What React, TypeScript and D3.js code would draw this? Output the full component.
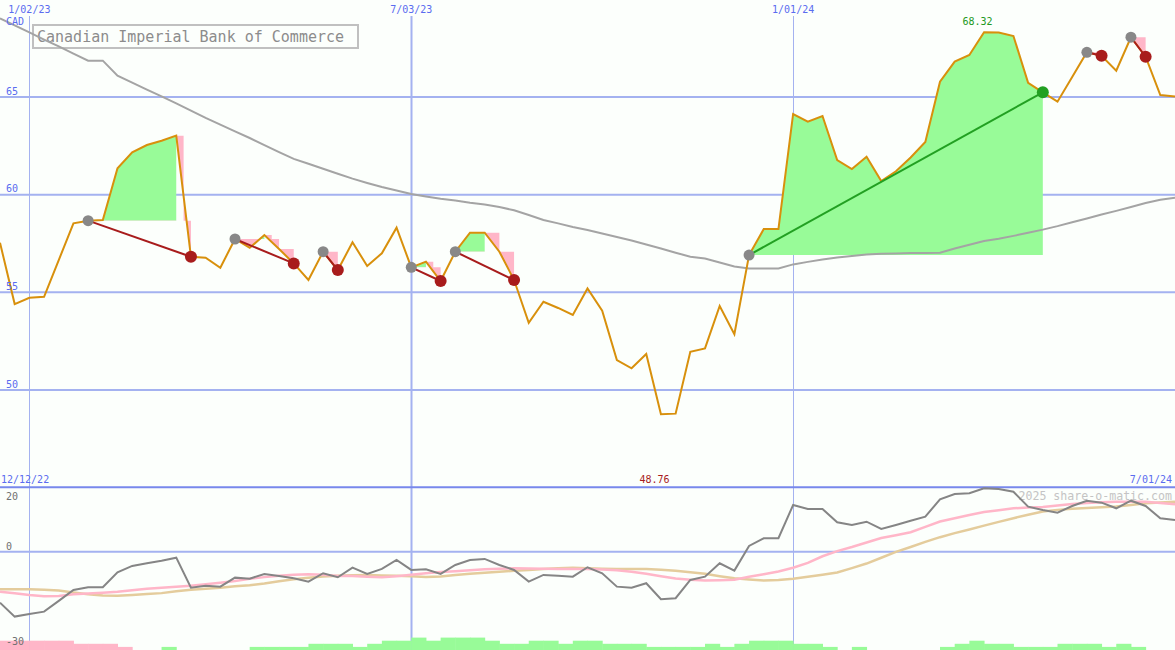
// @ts-nocheck
import { useRef, useEffect } from "react";
import * as d3 from "d3";

const W = 1175;
const H = 650;

// weekly closes, first week 12/19/22
const firstWeek = new Date(2022, 11, 19);
const lastDay = new Date(2024, 6, 1);

const closes = [
  57.54, 54.4, 54.72, 54.77, 56.65, 58.53, 58.67, 58.7, 61.35, 62.17,
  62.54, 62.76, 63.02, 56.82, 56.77, 56.26, 57.73, 57.28, 57.93, 57.22,
  56.48, 55.63, 57.08, 56.14, 57.56, 56.35, 57.0, 58.31, 56.28, 56.57,
  55.58, 57.08, 58.05, 58.05, 57.08, 55.63, 53.44, 54.52, 54.2, 53.84,
  55.2, 54.06, 51.53, 51.11, 51.84, 48.76, 48.79, 51.96, 52.13, 54.3,
  52.86, 56.91, 58.24, 58.24, 64.13, 63.74, 64.03, 61.77, 61.31, 61.94,
  60.7, 61.2, 61.9, 62.7, 65.78, 66.81, 67.15, 68.32, 68.3, 68.12,
  65.73, 65.24, 64.76, 66.02, 67.29, 67.11, 66.35, 68.06, 67.06, 65.1,
  65.02,
];

const movingAvg = [
  69.03, 68.67, 68.31, 67.94, 67.59, 67.22, 66.86, 66.86, 66.09, 65.74,
  65.38, 65.03, 64.67, 64.3, 63.93, 63.59, 63.24, 62.9, 62.54, 62.18,
  61.83, 61.58, 61.33, 61.07, 60.82, 60.6, 60.39, 60.21, 60.03, 59.91,
  59.79, 59.7, 59.59, 59.5, 59.37, 59.2, 58.96, 58.7, 58.53, 58.34,
  58.19, 58.01, 57.83, 57.65, 57.45, 57.24, 57.03, 56.82, 56.73, 56.53,
  56.32, 56.22, 56.22, 56.22, 56.43, 56.56, 56.68, 56.78, 56.86, 56.94,
  56.97, 56.99, 57.01, 57.01, 57.03, 57.24, 57.44, 57.63, 57.74, 57.89,
  58.05, 58.21, 58.39, 58.59, 58.78, 58.98, 59.17, 59.37, 59.57, 59.74,
  59.84,
];

// lower panel
const oscMain = [
  -16.09, -20.5, -19.65, -18.93, -15.55, -12.08, -11.23, -11.23, -6.5, -4.51,
  -3.66, -2.84, -1.89, -11.36, -10.73, -11.04, -8.2, -8.52, -7.03, -7.67,
  -8.39, -9.46, -6.81, -8.08, -5.05, -7.03, -5.46, -2.62, -5.77, -5.55,
  -7.03, -4.2, -2.62, -2.3, -4.2, -5.77, -9.46, -7.35, -7.57, -7.89,
  -4.92, -6.81, -11.04, -11.36, -9.97, -15.02, -14.7, -8.93, -7.89, -3.66,
  -5.99, 1.8, 4.23, 4.23, 14.73, 13.47, 13.47, 9.27, 8.42, 9.46,
  7.16, 8.42, 9.78, 11.04, 16.53, 18.2, 18.42, 20.0, 19.78, 18.93,
  14.2, 13.15, 12.3, 14.42, 16.09, 15.46, 13.69, 16.09, 14.42, 10.54,
  10.0,
];

const oscFast = [
  -12.62, -13.15, -13.69, -14.07, -14.01, -13.47, -13.22, -13.0, -12.68, -12.15,
  -11.7, -11.42, -11.07, -10.73, -10.32, -9.81, -9.24, -8.55, -8.04, -7.6,
  -7.29, -7.13, -7.29, -7.67, -7.7, -7.92, -8.04, -7.73, -7.32, -6.81,
  -6.44, -6.18, -5.9, -5.55, -5.43, -5.27, -5.3, -5.43, -5.46, -5.46,
  -5.46, -5.65, -5.9, -6.37, -6.97, -7.73, -8.45, -8.9, -9.12, -9.0,
  -8.86, -7.92, -7.13, -6.25, -5.08, -3.53, -1.45, 0.16, 1.45, 2.87,
  4.32, 5.21, 6.15, 7.82, 9.5, 10.57, 11.58, 12.49, 13.09, 13.69,
  13.91, 14.13, 14.54, 15.05, 15.36, 15.61, 15.77, 15.77, 15.77, 15.36,
  14.95,
];

const oscSlow = [
  -11.86, -11.86, -11.86, -12.05, -12.27, -12.9, -13.47, -13.82, -13.88, -13.66,
  -13.38, -13.09, -12.49, -11.99, -11.7, -11.36, -10.95, -10.57, -10.03, -9.37,
  -8.68, -8.23, -7.85, -7.63, -7.48, -7.35, -7.51, -7.63, -7.79, -7.98,
  -7.85, -7.38, -6.97, -6.62, -6.31, -6.03, -5.77, -5.49, -5.27, -5.05,
  -5.21, -5.36, -5.46, -5.46, -5.46, -5.74, -6.06, -6.53, -6.97, -7.73,
  -8.42, -8.8, -9.12, -8.93, -8.58, -7.95, -7.26, -6.56, -5.21, -3.75,
  -1.92, -0.06, 1.48, 3.09, 4.57, 5.84, 7.0, 8.23, 9.4, 10.57,
  11.67, 12.68, 13.19, 13.53, 13.79, 14.04, 14.29, 14.76, 15.27, 15.52,
  15.77,
];

const volLevels = [
  -3, -3, -3, -3, -3, -2, -2, -2, -1, 0,
  0, 1, 0, 0, 0, 0, 0, 1, 1, 1,
  1, 2, 2, 2, 1, 2, 3, 3, 4, 3,
  4, 4, 4, 3, 2, 2, 3, 3, 2, 3,
  3, 2, 2, 2, 1, 1, 1, 1, 2, 1,
  2, 3, 3, 3, 2, 2, 1, 0, 1, 0,
  0, 0, 0, 0, 1, 2, 3, 2, 2, 1,
  1, 1, 2, 2, 2, 1, 2, 1, 0, 0,
  0,
];

// trades: week index of entry / exit
const entryWeeks = [6, 16, 22, 28, 31, 51, 74, 77];
const exitWeeks = [13, 20, 23, 30, 35, 71, 75, 78];

const priceTicks = [50, 55, 60, 65];
const oscTicks = [20, 0, -30];
const gridDates = [new Date(2023, 0, 2), new Date(2023, 6, 3), new Date(2024, 0, 1)];
const title = "Canadian Imperial Bank of Commerce";

const FONT = "'DejaVu Sans Mono', monospace";
const BLUE_TXT = "#5a6cf0";
const GRID = "#a4b2f0";
const GREEN_FILL = "#98fb98";
const PINK_FILL = "#ffb6c8";

const App = () => {
  const svgRef = useRef();

  useEffect(() => {
    const svg = d3.select(svgRef.current);
    svg.selectAll("*").remove();

    const weeks = closes.map((_, i) => d3.timeDay.offset(firstWeek, 7 * i));
    const x = d3.scaleTime().domain([firstWeek, lastDay]).range([0, W]);
    const y = d3.scaleLinear().domain([50, 65]).range([390, 97]);
    const yOsc = d3.scaleLinear().domain([-30, 20]).range([646.7, 488.3]);
    const yVol = d3.scaleLinear().domain([0, 4]).range([650, 637.6]);
    const fmt = d3.timeFormat("%-m/%d/%y");
    const wx = (i) => x(weeks[i]);

    svg.append("rect").attr("width", W).attr("height", H).attr("fill", "#fcfffc");
    const defs = svg.append("defs");

    // grid
    const grid = svg.append("g");
    grid
      .selectAll(".hl")
      .data(priceTicks)
      .enter()
      .append("line")
      .attr("x1", 0)
      .attr("x2", W)
      .attr("y1", (d) => y(d))
      .attr("y2", (d) => y(d))
      .attr("stroke", GRID)
      .attr("stroke-width", 2);
    grid
      .selectAll(".vl")
      .data(gridDates)
      .enter()
      .append("line")
      .attr("x1", (d) => Math.round(x(d)) + 0.5)
      .attr("x2", (d) => Math.round(x(d)) + 0.5)
      .attr("y1", 16)
      .attr("y2", H)
      .attr("stroke", GRID)
      .attr("stroke-width", (d, i) => (i === 1 ? 2 : 1));
    grid
      .append("line")
      .attr("x1", 0)
      .attr("x2", W)
      .attr("y1", yOsc(0))
      .attr("y2", yOsc(0))
      .attr("stroke", GRID)
      .attr("stroke-width", 2);
    grid
      .append("line")
      .attr("x1", 0)
      .attr("x2", W)
      .attr("y1", yOsc(20) - 1)
      .attr("y2", yOsc(20) - 1)
      .attr("stroke", "#7888ec")
      .attr("stroke-width", 2);

    // trade fills
    const fills = svg.append("g");
    entryWeeks.forEach((e, k) => {
      const xe = exitWeeks[k];
      const lvl = closes[e];
      const yL = y(lvl);
      const win = closes[xe] >= lvl;
      let p = e;
      for (let i = e; i <= xe; i++) if (closes[i] >= closes[p]) p = i;
      const end = win ? xe : p;
      const seg = d3.range(e, end + 1);
      const area = d3
        .area()
        .x((i) => wx(i))
        .y0(yL)
        .y1((i) => y(closes[i]));
      defs
        .append("clipPath")
        .attr("id", `up${k}`)
        .append("rect")
        .attr("x", 0)
        .attr("y", 0)
        .attr("width", W)
        .attr("height", yL);
      defs
        .append("clipPath")
        .attr("id", `dn${k}`)
        .append("rect")
        .attr("x", 0)
        .attr("y", yL)
        .attr("width", W)
        .attr("height", H - yL);
      if (seg.length > 1) {
        fills.append("path").datum(seg).attr("d", area).attr("fill", GREEN_FILL).attr("clip-path", `url(#up${k})`);
        fills.append("path").datum(seg).attr("d", area).attr("fill", PINK_FILL).attr("clip-path", `url(#dn${k})`);
      }
      if (!win) {
        // drop after the peak
        for (let i = p; i < xe; i++) {
          if (closes[i + 1] >= closes[i]) continue;
          const x0 = wx(i);
          const x1 = wx(i + 1);
          const y0 = y(closes[i]);
          const y1 = y(closes[i + 1]);
          let d;
          if (y0 < yL - 3 && y1 > yL + 3) {
            const xm = (x0 + x1) / 2;
            d = `M${x0},${y0}L${xm},${y0}L${xm},${yL}L${x1},${yL}L${x1},${y1}Z`;
          } else {
            d = `M${x0},${y0}L${x1},${y0}L${x1},${y1}Z`;
          }
          fills.append("path").attr("d", d).attr("fill", PINK_FILL);
        }
      }
    });

    // volume-like bars
    svg
      .append("g")
      .selectAll("rect")
      .data(volLevels.map((v, i) => ({ v, i })).filter((d) => d.v !== 0))
      .enter()
      .append("rect")
      .attr("x", (d) => wx(d.i))
      .attr("width", (d) => (d.i < 80 ? wx(d.i + 1) - wx(d.i) + 0.5 : 1))
      .attr("y", (d) => yVol(Math.abs(d.v)))
      .attr("height", (d) => 650 - yVol(Math.abs(d.v)))
      .attr("fill", (d) => (d.v > 0 ? GREEN_FILL : PINK_FILL));

    // title box
    svg
      .append("rect")
      .attr("x", 33)
      .attr("y", 25)
      .attr("width", 325)
      .attr("height", 23)
      .attr("fill", "none")
      .attr("stroke", "#c0c0c0")
      .attr("stroke-width", 2);
    svg
      .append("text")
      .attr("x", 37)
      .attr("y", 36.5)
      .attr("dominant-baseline", "central")
      .attr("font-family", FONT)
      .attr("font-size", 15)
      .attr("fill", "#8c8c8c")
      .text(title);

    svg
      .append("text")
      .attr("x", 1172)
      .attr("y", 496)
      .attr("text-anchor", "end")
      .attr("dominant-baseline", "central")
      .attr("font-family", FONT)
      .attr("font-size", 11.6)
      .attr("fill", "#c4c4c4")
      .text("2025 share-o-matic.com");

    // lines
    const line = (arr, ys) =>
      d3
        .line()
        .x((d, i) => wx(i))
        .y((d) => ys(d))(arr);

    svg.append("path").attr("d", line(movingAvg, y)).attr("fill", "none").attr("stroke", "#a4a4a4").attr("stroke-width", 2);
    svg.append("path").attr("d", line(oscSlow, yOsc)).attr("fill", "none").attr("stroke", "#e4cc9c").attr("stroke-width", 2.5);
    svg.append("path").attr("d", line(oscFast, yOsc)).attr("fill", "none").attr("stroke", "#ffb6c8").attr("stroke-width", 2.5);
    svg.append("path").attr("d", line(oscMain, yOsc)).attr("fill", "none").attr("stroke", "#858585").attr("stroke-width", 2);
    svg.append("path").attr("d", line(closes, y)).attr("fill", "none").attr("stroke", "#d8900c").attr("stroke-width", 2);

    // trade connectors and markers
    const tr = svg.append("g");
    entryWeeks.forEach((e, k) => {
      const xe = exitWeeks[k];
      const win = closes[xe] >= closes[e];
      tr.append("line")
        .attr("x1", wx(e))
        .attr("y1", y(closes[e]))
        .attr("x2", wx(xe))
        .attr("y2", y(closes[xe]))
        .attr("stroke", win ? "#22a022" : "#a81c1c")
        .attr("stroke-width", 2);
    });
    entryWeeks.forEach((e) => {
      tr.append("circle").attr("cx", wx(e)).attr("cy", y(closes[e])).attr("r", 5.5).attr("fill", "#888888");
    });
    exitWeeks.forEach((xe, k) => {
      const win = closes[xe] >= closes[entryWeeks[k]];
      tr.append("circle")
        .attr("cx", wx(xe))
        .attr("cy", y(closes[xe]))
        .attr("r", 6)
        .attr("fill", win ? "#22a022" : "#a81c1c");
    });

    // labels
    const txt = (g, s, tx, ty, fill, anchor = "start") =>
      g
        .append("text")
        .attr("x", tx)
        .attr("y", ty)
        .attr("text-anchor", anchor)
        .attr("dominant-baseline", "central")
        .attr("font-family", FONT)
        .attr("font-size", 10)
        .attr("fill", fill)
        .text(s);

    const lab = svg.append("g");
    gridDates.forEach((d) => txt(lab, fmt(d), x(d), 9, BLUE_TXT, "middle"));
    txt(lab, "CAD", 6, 21, BLUE_TXT);
    priceTicks.forEach((v) => txt(lab, String(v), 6, y(v) - 6, BLUE_TXT));
    oscTicks.forEach((v) => {
      const ty = v === 20 ? yOsc(v) + 8.5 : yOsc(v) - 5;
      txt(lab, String(v), 6, ty, "#707070");
    });
    txt(lab, fmt(d3.timeDay.offset(firstWeek, -7)), 1, 479, BLUE_TXT);
    txt(lab, fmt(lastDay), 1172, 479, BLUE_TXT, "end");

    const hi = d3.maxIndex(closes);
    const lo = d3.minIndex(closes);
    txt(lab, closes[hi].toFixed(2), wx(hi) - 6.5, 21, "#229922", "middle");
    txt(lab, closes[lo].toFixed(2), wx(lo) - 6.5, 479, "#a81c1c", "middle");
  }, []);

  return (
    <svg
      ref={svgRef}
      width={W}
      height={H}
      style={{ position: "absolute", left: 0, top: 0, display: "block" }}
    ></svg>
  );
};

export default App;
